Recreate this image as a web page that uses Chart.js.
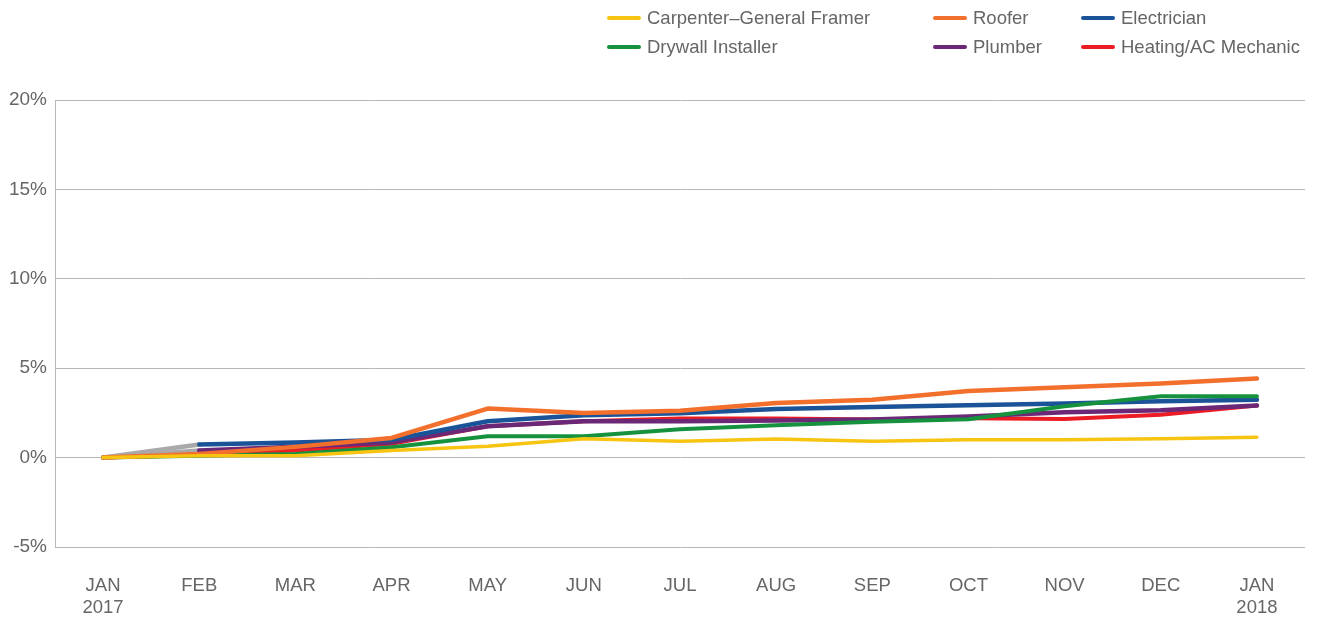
<!DOCTYPE html>
<html>
<head>
<meta charset="utf-8">
<script src="https://cdn.jsdelivr.net/npm/chart.js@4.4.1/dist/chart.umd.min.js"></script>
<style>
  html, body { margin: 0; padding: 0; background: #fff; }
  #wrap { position: relative; width: 1321px; height: 621px; }
  #legend { position: absolute; left: 0; top: 0; width: 1321px; height: 70px; font-family: "Liberation Sans", Arial, sans-serif; font-size: 18.5px; color: #666; }
  .item { position: absolute; display: flex; align-items: center; white-space: nowrap; height: 22px; }
  .swatch { width: 34px; height: 4px; border-radius: 2px; margin-right: 6px; }
</style>
</head>
<body>
<div id="wrap">
  <canvas id="c" width="1321" height="621"></canvas>
  <div id="legend"></div>
</div>
<script>
const categories = [["JAN","2017"],"FEB","MAR","APR","MAY","JUN","JUL","AUG","SEP","OCT","NOV","DEC",["JAN","2018"]];
const carpenter = [0, 0.1, 0.1, 0.4, 0.63, 1.05, 0.91, 1.04, 0.91, 1.0, 1.0, 1.06, 1.14];
const roofer    = [0, 0.2, 0.6, 1.1, 2.74, 2.5, 2.62, 3.06, 3.24, 3.73, 3.93, 4.14, 4.42];
const electrician = [0, 0.73, 0.84, 1.0, 2.03, 2.37, 2.48, 2.72, 2.83, 2.93, 3.02, 3.15, 3.24];
const drywall   = [0, 0.1, 0.2, 0.58, 1.19, 1.19, 1.58, 1.81, 2.01, 2.14, 2.87, 3.43, 3.43];
const plumber   = [0, 0.4, 0.6, 0.85, 1.75, 2.03, 2.03, 2.07, 2.13, 2.3, 2.53, 2.65, 2.91];
const heating   = [0, 0.15, 0.4, 0.77, 1.75, 2.03, 2.18, 2.18, 2.13, 2.2, 2.16, 2.4, 2.91];
const yTicks = [-5, 0, 5, 10, 15, 20];

const legendItems = [
  {label: "Carpenter\u2013General Framer", color: "#f7c412", x: 607, y: 18},
  {label: "Roofer", color: "#f26f2c", x: 933, y: 18},
  {label: "Electrician", color: "#1b5398", x: 1081, y: 18},
  {label: "Drywall Installer", color: "#16923f", x: 607, y: 47},
  {label: "Plumber", color: "#6a2877", x: 933, y: 47},
  {label: "Heating/AC Mechanic", color: "#ec1c24", x: 1081, y: 47}
];
const lg = document.getElementById('legend');
legendItems.forEach(it => {
  const d = document.createElement('div');
  d.className = 'item';
  d.style.left = it.x + 'px';
  d.style.top = (it.y - 11) + 'px';
  d.innerHTML = '<span class="swatch" style="background:' + it.color + '"></span><span>' + it.label + '</span>';
  lg.appendChild(d);
});

const GRAY = '#a9a9ab';
const firstGray = (color) => ({ borderColor: ctx => ctx.p0DataIndex === 0 ? GRAY : color });

function ds(label, data, color, width, extra) {
  return Object.assign({
    label, data, borderColor: color, backgroundColor: color, borderWidth: width,
    pointRadius: 0, pointHoverRadius: 0, tension: 0, fill: false,
    borderCapStyle: 'round', borderJoinStyle: 'round'
  }, extra || {});
}

const grid = '#b7b7b9';
new Chart(document.getElementById('c'), {
  type: 'line',
  data: {
    labels: categories,
    datasets: [
      ds("Carpenter\u2013General Framer", carpenter, "#f7c412", 3.5),
      ds("Roofer", roofer, "#f26f2c", 4.5),
      ds("Drywall Installer", drywall, "#16923f", 4),
      ds("Electrician", electrician, "#1b5398", 4.5, {segment: firstGray("#1b5398")}),
      ds("Plumber", plumber, "#6a2877", 4.5, {segment: firstGray("#6a2877")}),
      ds("Heating/AC Mechanic", heating, "#ec1c24", 4)
    ]
  },
  options: {
    responsive: false,
    animation: false,
    layout: { padding: { top: 100, right: 16, bottom: 0, left: 0 } },
    plugins: { legend: { display: false }, tooltip: { enabled: false } },
    scales: {
      x: {
        offset: true,
        grid: { display: false, drawTicks: false },
        border: { display: false },
        ticks: { color: '#666', font: { family: 'Liberation Sans', size: 18.5, lineHeight: 1.2 }, padding: 28, maxRotation: 0, autoSkip: false },
        afterFit: s => { s.height = 74; }
      },
      y: {
        min: -5, max: 20,
        afterBuildTicks: s => { s.ticks = yTicks.map(v => ({ value: v })); },
        grid: { color: grid, lineWidth: 1, drawTicks: false },
        border: { display: true, color: grid, width: 1 },
        ticks: { color: '#666', font: { family: 'Liberation Sans', size: 19 }, padding: 8, callback: v => v + '%' },
        afterFit: s => { s.width = 55; }
      }
    }
  }
});
</script>
</body>
</html>
